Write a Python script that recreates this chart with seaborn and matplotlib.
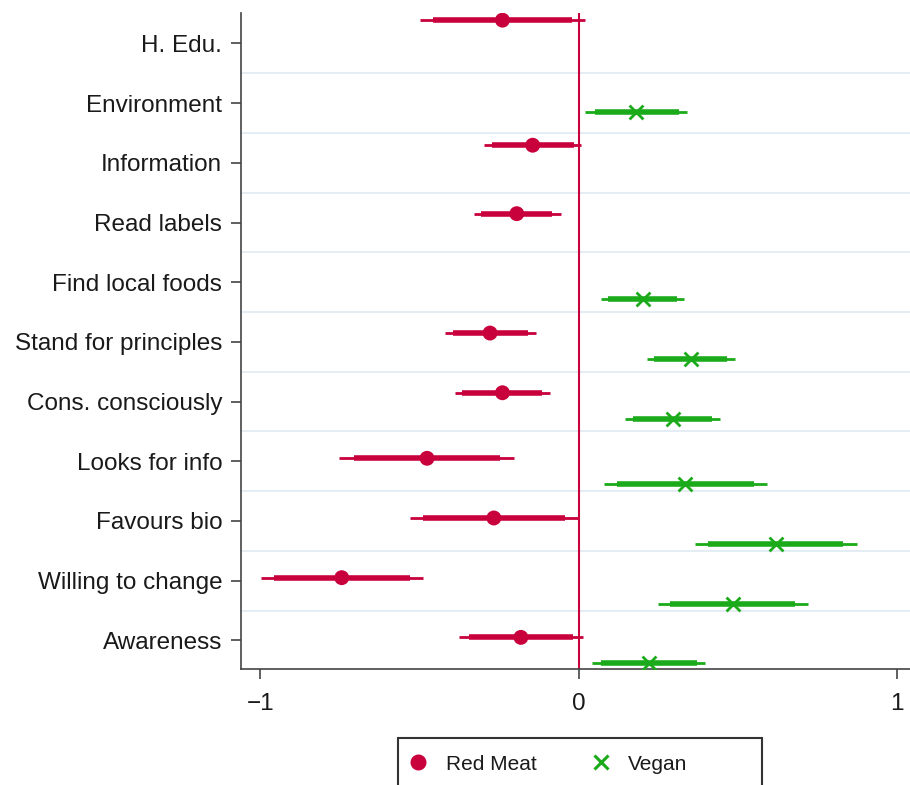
import matplotlib
matplotlib.use("Agg")
import matplotlib.pyplot as plt
from matplotlib.patches import Rectangle
from matplotlib.lines import Line2D
import pandas as pd
import seaborn as sns

# ---- data -------------------------------------------------------------
categories = ["H. Edu.", "Environment", "Information", "Read labels",
              "Find local foods", "Stand for principles", "Cons. consciously",
              "Looks for info", "Favours bio", "Willing to change", "Awareness"]

# Red meat model: coefficient, inner (90%) and outer (95%) interval bounds
red_items = ["H. Edu.", "Information", "Read labels", "Stand for principles",
             "Cons. consciously", "Looks for info", "Favours bio",
             "Willing to change", "Awareness"]
red_coef = [-0.239, -0.144, -0.194, -0.278, -0.239, -0.476, -0.266, -0.744, -0.181]
red_lo90 = [-0.456, -0.273, -0.307, -0.395, -0.365, -0.707, -0.490, -0.958, -0.343]
red_hi90 = [-0.022, -0.015, -0.083, -0.158, -0.114, -0.246, -0.042, -0.531, -0.018]
red_lo95 = [-0.497, -0.298, -0.327, -0.418, -0.388, -0.752, -0.531, -0.999, -0.375]
red_hi95 = [0.019, 0.008, -0.056, -0.134, -0.090, -0.202, -0.002, -0.490, 0.015]

# Vegan model
vegan_items = ["Environment", "Find local foods", "Stand for principles",
               "Cons. consciously", "Looks for info", "Favours bio",
               "Willing to change", "Awareness"]
vegan_coef = [0.182, 0.202, 0.354, 0.297, 0.335, 0.620, 0.484, 0.220]
vegan_lo90 = [0.053, 0.093, 0.238, 0.171, 0.121, 0.408, 0.287, 0.070]
vegan_hi90 = [0.317, 0.310, 0.467, 0.419, 0.551, 0.830, 0.681, 0.371]
vegan_lo95 = [0.021, 0.070, 0.215, 0.147, 0.080, 0.367, 0.250, 0.042]
vegan_hi95 = [0.342, 0.333, 0.491, 0.446, 0.593, 0.874, 0.720, 0.398]

x_ticks = [-1, 0, 1]
series_names = ["Red Meat", "Vegan"]

# ---- layout / style -----------------------------------------------------
# vertical nudge of each row's markers relative to its label (category units)
row_nudge = [-0.39, -0.295, -0.295, -0.148, -0.148, -0.148, -0.148,
             -0.05, -0.05, -0.05, -0.05]
pair_gap = 0.436
RED = "#C8003C"
GREEN = "#1AAA1A"
AXIS = "#444444"
TEXT = "#1a1a1a"

W, H = 910, 785
sns.set_style("white")
plt.rcParams["font.family"] = ["Liberation Sans", "DejaVu Sans"]


def frame(name, items, coef, lo90, hi90, lo95, hi95, shift):
    df = pd.DataFrame({"item": items, "coef": coef, "lo90": lo90, "hi90": hi90,
                       "lo95": lo95, "hi95": hi95})
    idx = df["item"].map(categories.index)
    df["ypos"] = idx + idx.map(lambda i: row_nudge[i]) + shift
    df["model"] = name
    return df


red = frame(series_names[0], red_items, red_coef, red_lo90, red_hi90,
            red_lo95, red_hi95, 0.0)
vegan = frame(series_names[1], vegan_items, vegan_coef, vegan_lo90, vegan_hi90,
              vegan_lo95, vegan_hi95, pair_gap)

fig = plt.figure(figsize=(W / 100, H / 100), dpi=100)
ax = fig.add_axes([241 / W, 1 - 669 / H, (W - 241) / W, (669 - 13) / H])

# light separators between rows
for i in range(len(categories) - 1):
    ax.axhline(i + 0.5, color="#E2ECF2", lw=1.3, zorder=0)

ax.axvline(0, color=RED, lw=1.5, zorder=1)

for df, col, mk, size, lw in [(red, RED, "o", 115, 0), (vegan, GREEN, "x", 100, 2.0)]:
    ax.hlines(df["ypos"], df["lo95"], df["hi95"], color=col, lw=2.0, zorder=2)
    ax.hlines(df["ypos"], df["lo90"], df["hi90"], color=col, lw=4.0, zorder=3)
    sns.scatterplot(data=df, x="coef", y="ypos", marker=mk, s=size, color=col,
                    linewidth=lw, edgecolor=col if mk == "x" else "none",
                    legend=False, ax=ax, zorder=4)

ax.set_xlim(-1.0605, 1.0416)
ax.set_ylim(10.48, -0.51)
ax.set_yticks(range(len(categories)))
ax.set_yticklabels(categories)
ax.set_xticks(x_ticks)
ax.set_xticklabels(["\u2212" + str(abs(t)) if t < 0 else str(t) for t in x_ticks])
ax.set_xlabel("")
ax.set_ylabel("")

for side in ("top", "right"):
    ax.spines[side].set_visible(False)
for side in ("left", "bottom"):
    ax.spines[side].set_color(AXIS)
    ax.spines[side].set_linewidth(1.2)

ax.tick_params(axis="y", length=7, width=1.2, color=AXIS, pad=6.5,
               labelsize=17.5, labelcolor=TEXT, left=True)
ax.tick_params(axis="x", length=7, width=1.2, color=AXIS, pad=10,
               labelsize=17.5, labelcolor=TEXT, bottom=True)

# legend box below the plot
fig.patches.append(Rectangle((398 / W, -0.05), 364 / W, 0.05 + 1 - 738 / H,
                             transform=fig.transFigure, fill=False,
                             edgecolor="#333333", lw=1.5))
handles = [
    Line2D([], [], ls="none", marker="o", ms=10.5, color=RED, mec=RED),
    Line2D([], [], ls="none", marker="x", ms=10, mew=2.2, color=GREEN),
]
fig.legend(handles, series_names, loc="center left",
           bbox_to_anchor=(408 / W, 1 - 764 / H), ncol=2, frameon=False,
           fontsize=15, handlelength=1.0, handletextpad=0.8,
           columnspacing=2.6, borderpad=0, borderaxespad=0,
           labelcolor=TEXT)

fig.savefig("out.png", dpi=100)
